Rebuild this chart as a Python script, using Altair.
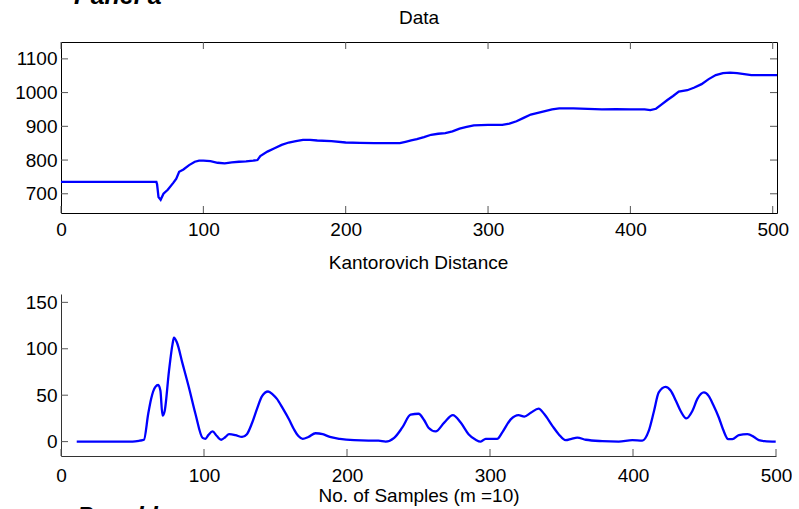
import altair as alt
import pandas as pd

FONT = "Liberation Sans"

# ---- data ----
data_x = [0, 67, 67.5, 68.5, 70, 72, 75, 79, 81, 83, 86, 90, 94, 97, 100, 105, 110, 115, 120,
          125, 130, 135, 138, 140, 145, 150, 155, 160, 165, 170, 175, 180, 190, 200, 210, 220,
          230, 238, 242, 246, 250, 255, 260, 265, 270, 275, 280, 285, 290, 300, 310, 315, 320,
          325, 330, 335, 340, 345, 350, 360, 370, 380, 390, 400, 410, 414, 418, 422, 426, 430,
          434, 440, 445, 450, 455, 460, 465, 470, 475, 480, 485, 490, 503]
data_y = [735, 735, 728, 690, 682, 700, 712, 733, 745, 765, 772, 785, 795, 798, 798, 797, 792,
          790, 793, 795, 796, 798, 800, 812, 825, 835, 845, 852, 856, 860, 860, 858, 856, 852,
          851, 850, 850, 850, 854, 858, 862, 868, 875, 878, 880, 885, 893, 898, 903, 904, 904,
          908, 915, 925, 935, 940, 945, 950, 953, 953, 952, 950, 951, 950, 950, 948, 952, 965,
          978, 990, 1003, 1007, 1015, 1025, 1040, 1052, 1058, 1059, 1058, 1055, 1052, 1052, 1052]

kd_x = [11, 50, 55, 58, 61, 63, 66, 68, 69.5, 71, 72.5, 75.5, 78, 79, 81, 85, 89.5, 94, 99, 101,
        103, 106, 109, 112, 115, 117.5, 122, 126.6, 130, 133.6, 137, 140.6, 144.8, 148, 151,
        155, 159.4, 163, 166, 169, 173, 178, 183, 188, 195, 205, 215, 222, 227, 233, 238.6,
        244.5, 250, 254, 257, 262, 268, 274, 279.5, 285, 290, 293.5, 297, 305, 308.6, 314.5,
        320, 324, 328.5, 334, 337.8, 343.6, 348, 352.9, 357, 361, 367, 378.5, 390, 399.5,
        406.5, 411, 414.7, 418, 422.8, 426.3, 430, 433.3, 437.3, 441.5, 445, 449.6, 453, 456,
        460, 463, 466.6, 469.5, 474, 480, 484.6, 488, 492, 499.8]
kd_y = [0, 0, 1, 2, 30, 46, 59, 61, 55, 28, 33, 76, 105, 112, 107, 84, 58, 30, 4, 3,
        7, 11, 6, 2, 5, 8, 7, 5, 8, 20, 35, 49, 54, 51, 46,
        36, 24, 13, 6, 3, 5, 9, 8, 5, 3, 1.5, 1, 1, 0, 4, 15,
        29, 30, 23, 15, 11, 20.5, 28.5, 20.5, 8, 2, 0, 3, 3, 10, 24,
        28.5, 27, 31, 35.6, 30, 17, 8, 1.5, 3, 4.3, 2, 0.5, 0, 1.5,
        1, 11.5, 33, 53, 59, 55, 44, 33, 25, 33, 46, 53, 49, 40,
        26, 13, 2.6, 2.6, 7, 8, 5, 1.5, 0.5, 0]

top_title = "Data"
bottom_title = "Kantorovich Distance"
x_title = "No. of Samples (m =10)"
top_xticks = [0, 100, 200, 300, 400, 500]
top_yticks = [700, 800, 900, 1000, 1100]
bot_xticks = [0, 100, 200, 300, 400, 500]
bot_yticks = [0, 50, 100, 150]
panel_a = ["Panel a"]
panel_b = ["Panel b"]

# ---- layout / style ----
W1, H1 = 716, 171
W2, H2 = 715, 162
TL = 7
TICKC = "#555555"
BLUE = "#0000ff"
FS = 19

df_top = pd.DataFrame({"x": data_x, "y": data_y})
df_bot = pd.DataFrame({"x": kd_x, "y": kd_y})

xs_top = alt.Scale(domain=[0, 503], nice=False, zero=False)
ys_top = alt.Scale(domain=[643, 1150], nice=False, zero=False)
xs_bot = alt.Scale(domain=[0, 500], nice=False, zero=False)
ys_bot = alt.Scale(domain=[-15.5, 159], nice=False, zero=False)

ax_top_x = alt.Axis(values=top_xticks, labelPadding=7, ticks=False, domain=False,
                    grid=False, labelFlush=False, format="d")
ax_top_y = alt.Axis(values=top_yticks, labelPadding=4, ticks=False, domain=False,
                    grid=False, labelFlush=False, format="d")
ax_bot_x = alt.Axis(values=bot_xticks, labelPadding=10, ticks=False, domain=True,
                    domainColor="#333333", grid=False, labelFlush=False, format="d",
                    titleFont=FONT, titleFontSize=FS, titleFontWeight="normal",
                    titleColor="black", titlePadding=1)
ax_bot_y = alt.Axis(values=bot_yticks, labelPadding=4, ticks=False, domain=True,
                    domainColor="#333333", grid=False, labelFlush=False, format="d")

# ---- top panel ----
top_line = alt.Chart(df_top).mark_line(color=BLUE, strokeWidth=2.3).encode(
    x=alt.X("x:Q", scale=xs_top, title=None, axis=ax_top_x),
    y=alt.Y("y:Q", scale=ys_top, title=None, axis=ax_top_y),
)
df_txt = pd.DataFrame({"t": top_xticks})
df_tyt = pd.DataFrame({"t": top_yticks})
tx_b = alt.Chart(df_txt).mark_rule(color=TICKC).encode(
    x=alt.X("t:Q", scale=xs_top, title=None, axis=ax_top_x), y=alt.value(H1), y2=alt.value(H1 - TL))
tx_t = alt.Chart(df_txt).mark_rule(color=TICKC).encode(
    x=alt.X("t:Q", scale=xs_top, title=None, axis=ax_top_x), y=alt.value(0), y2=alt.value(TL))
ty_l = alt.Chart(df_tyt).mark_rule(color=TICKC).encode(
    y=alt.Y("t:Q", scale=ys_top, title=None, axis=ax_top_y), x=alt.value(0), x2=alt.value(TL))
ty_r = alt.Chart(df_tyt).mark_rule(color=TICKC).encode(
    y=alt.Y("t:Q", scale=ys_top, title=None, axis=ax_top_y), x=alt.value(W1), x2=alt.value(W1 - TL))

top = alt.layer(top_line, tx_b, tx_t, ty_l, ty_r).properties(
    width=W1, height=H1,
    title=alt.TitleParams(top_title, font=FONT, fontSize=FS, fontWeight="normal",
                          color="black", anchor="middle", offset=14),
    view=alt.ViewBackground(stroke="black", strokeWidth=1),
)

# ---- bottom panel ----
bot_line = alt.Chart(df_bot).mark_line(color=BLUE, strokeWidth=2.3, interpolate="monotone").encode(
    x=alt.X("x:Q", scale=xs_bot, title=x_title, axis=ax_bot_x),
    y=alt.Y("y:Q", scale=ys_bot, title=None, axis=ax_bot_y),
)
df_bxt = pd.DataFrame({"t": bot_xticks})
df_byt = pd.DataFrame({"t": bot_yticks})
bx_b = alt.Chart(df_bxt).mark_rule(color=TICKC).encode(
    x=alt.X("t:Q", scale=xs_bot, title=x_title, axis=ax_bot_x), y=alt.value(H2), y2=alt.value(H2 - TL))
by_l = alt.Chart(df_byt).mark_rule(color=TICKC).encode(
    y=alt.Y("t:Q", scale=ys_bot, title=None, axis=ax_bot_y), x=alt.value(0), x2=alt.value(TL))

bottom = alt.layer(bot_line, bx_b, by_l).properties(
    width=W2, height=H2,
    title=alt.TitleParams(bottom_title, font=FONT, fontSize=FS, fontWeight="normal",
                          color="black", anchor="middle", offset=20),
)

# ---- cropped panel labels (from neighbouring figures) ----
tiny_a = alt.Chart(pd.DataFrame({"label": panel_a})).mark_text(
    clip=True, align="left", baseline="alphabetic", font=FONT, fontSize=25,
    fontStyle="italic", fontWeight="bold", color="black",
).encode(text="label:N", x=alt.value(13), y=alt.value(4)).properties(width=W1, height=8)

tiny_b = alt.Chart(pd.DataFrame({"label": panel_b})).mark_text(
    clip=True, align="left", baseline="alphabetic", font=FONT, fontSize=25,
    fontStyle="italic", fontWeight="bold", color="black",
).encode(text="label:N", x=alt.value(16), y=alt.value(20)).properties(width=W1, height=6)

main = alt.vconcat(top, bottom, spacing=14)

chart = alt.vconcat(tiny_a, main, tiny_b, spacing=0).properties(
    padding={"left": 14, "top": 0, "right": 0, "bottom": 0}
).configure_view(strokeWidth=0).configure_axis(
    labelFont=FONT, labelFontSize=FS, labelColor="black"
).configure_title(font=FONT)

chart.save("out.html", embed_options={"renderer": "svg", "actions": False})
